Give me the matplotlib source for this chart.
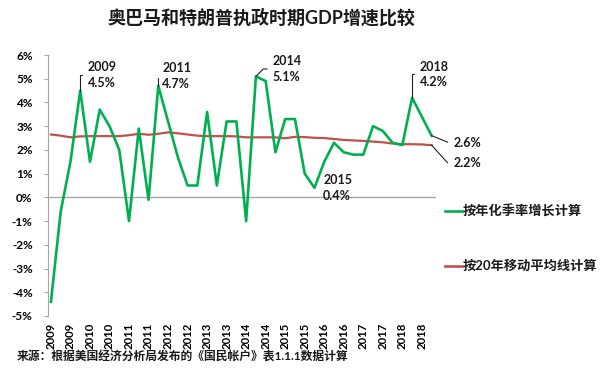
import matplotlib
matplotlib.use("Agg")
import matplotlib.pyplot as plt
from matplotlib.lines import Line2D

plt.rcParams['font.family'] = ['Lato', 'Noto Sans CJK SC', 'DejaVu Sans']
plt.rcParams['font.weight'] = 'bold'

# ---- data ----
years = [2009]*4 + [2010]*4 + [2011]*4 + [2012]*4 + [2013]*4 + \
        [2014]*4 + [2015]*4 + [2016]*4 + [2017]*4 + [2018]*4
quarterly_growth = [-4.4, -0.6, 1.5, 4.5, 1.5, 3.7, 3.0, 2.0, -1.0, 2.9,
                    -0.1, 4.7, 3.2, 1.7, 0.5, 0.5, 3.6, 0.5, 3.2, 3.2,
                    -1.0, 5.1, 4.9, 1.9, 3.3, 3.3, 1.0, 0.4, 1.5, 2.3,
                    1.9, 1.8, 1.8, 3.0, 2.8, 2.3, 2.2, 4.2, 3.4, 2.6]
moving_avg_20y = [2.65, 2.60, 2.53, 2.57, 2.58, 2.58, 2.58, 2.58, 2.62, 2.68,
                  2.64, 2.68, 2.74, 2.70, 2.65, 2.60, 2.58, 2.58, 2.58, 2.57,
                  2.53, 2.53, 2.53, 2.53, 2.49, 2.55, 2.54, 2.51, 2.50, 2.46,
                  2.42, 2.40, 2.38, 2.35, 2.32, 2.27, 2.24, 2.24, 2.23, 2.20]
series_labels = ['按年化季率增长计算', '按20年移动平均线计算']
y_ticks = list(range(-5, 7))
# annotations: (index, series, text)
annots = [(3, 'g', '2009\n4.5%'), (11, 'g', '2011\n4.7%'), (21, 'g', '2014\n5.1%'),
          (27, 'g', '2015\n0.4%'), (37, 'g', '2018\n4.2%'), (39, 'g', '2.6%'),
          (39, 'r', '2.2%')]

GREEN = '#00B050'
RED = '#C0504D'
GREY = '#A6A6A6'

W, H = 600, 380
fig = plt.figure(figsize=(6, 3.8), dpi=100)
ax = fig.add_axes([48/W, 1-316/H, (436-48)/W, (316-55)/H])

x = list(range(len(quarterly_growth)))
ax.plot(x, moving_avg_20y, color=RED, lw=1.6, zorder=3)
ax.plot(x, quarterly_growth, color=GREEN, lw=1.9, zorder=4)
ax.axhline(0, color=GREY, lw=1.0, zorder=1)

ax.set_xlim(-0.3, 39.45)
ax.set_ylim(-5, 6)
ax.set_yticks(y_ticks)
ax.set_yticklabels([f'{v}%' for v in y_ticks])
ax.set_xticks(x[::2])
ax.set_xticklabels([str(y) for y in years[::2]], rotation=90)

for s in ['top', 'right', 'bottom']:
    ax.spines[s].set_visible(False)
ax.spines['left'].set_color(GREY)
ax.tick_params(axis='y', length=3, color=GREY, pad=8, labelsize=8.5)
ax.tick_params(axis='x', length=0, pad=5, labelsize=8.2)
for t in ax.get_xticklabels() + ax.get_yticklabels():
    t.set_fontweight('bold')

# annotation layout (offset pixels)
offsets = {
    '2009\n4.5%': ((7.3, 15.4), 'angle,angleA=0,angleB=90,rad=0'),
    '2011\n4.7%': ((4.0, 10.0), 'angle,angleA=0,angleB=90,rad=0'),
    '2014\n5.1%': ((16.8, 7.4), 'angle,angleA=0,angleB=45,rad=0'),
    '2015\n0.4%': ((8.7, 0.0), None),
    '2018\n4.2%': ((7.7, 23.3), 'angle,angleA=0,angleB=90,rad=0'),
    '2.6%': ((21.5, -7.6), 'angle,angleA=0,angleB=-22,rad=0'),
    '2.2%': ((21.5, -17.5), 'angle,angleA=0,angleB=-48,rad=0'),
}
for idx, ser, txt in annots:
    yv = quarterly_growth[idx] if ser == 'g' else moving_avg_20y[idx]
    off, cs = offsets[txt]
    kw = {}
    if cs is not None:
        kw['arrowprops'] = dict(arrowstyle='-', connectionstyle=cs, color='#222222',
                                lw=0.8, shrinkA=2, shrinkB=0, relpos=(0, 0.5))
    ax.annotate(txt, xy=(idx, yv), xytext=off, textcoords='offset pixels',
                ha='left', va='center', fontsize=9, fontweight='bold',
                color='#1a1a1a', linespacing=1.35, zorder=6, **kw)

# legend (manual)
for (yy, col, lab) in [(211, GREEN, series_labels[0]), (266, RED, series_labels[1])]:
    fig.add_artist(Line2D([445/W, 462/W], [1-yy/H, 1-yy/H], color=col, lw=1.9,
                          transform=fig.transFigure))
    fig.text(463/W, 1-yy/H, lab, ha='left', va='center', fontsize=9.5,
             fontweight='bold', color='#1a1a1a')

fig.text(261/W, 1-17/H, '奥巴马和特朗普执政时期GDP增速比较', ha='center', va='center',
         fontsize=13, fontweight='bold', color='#1a1a1a')
fig.text(17/W, 1-357/H, '来源：根据美国经济分析局发布的《国民帐户》表1.1.1数据计算',
         ha='left', va='center', fontsize=8.5, fontweight='bold', color='#1a1a1a')

fig.savefig('out.png', dpi=100)
